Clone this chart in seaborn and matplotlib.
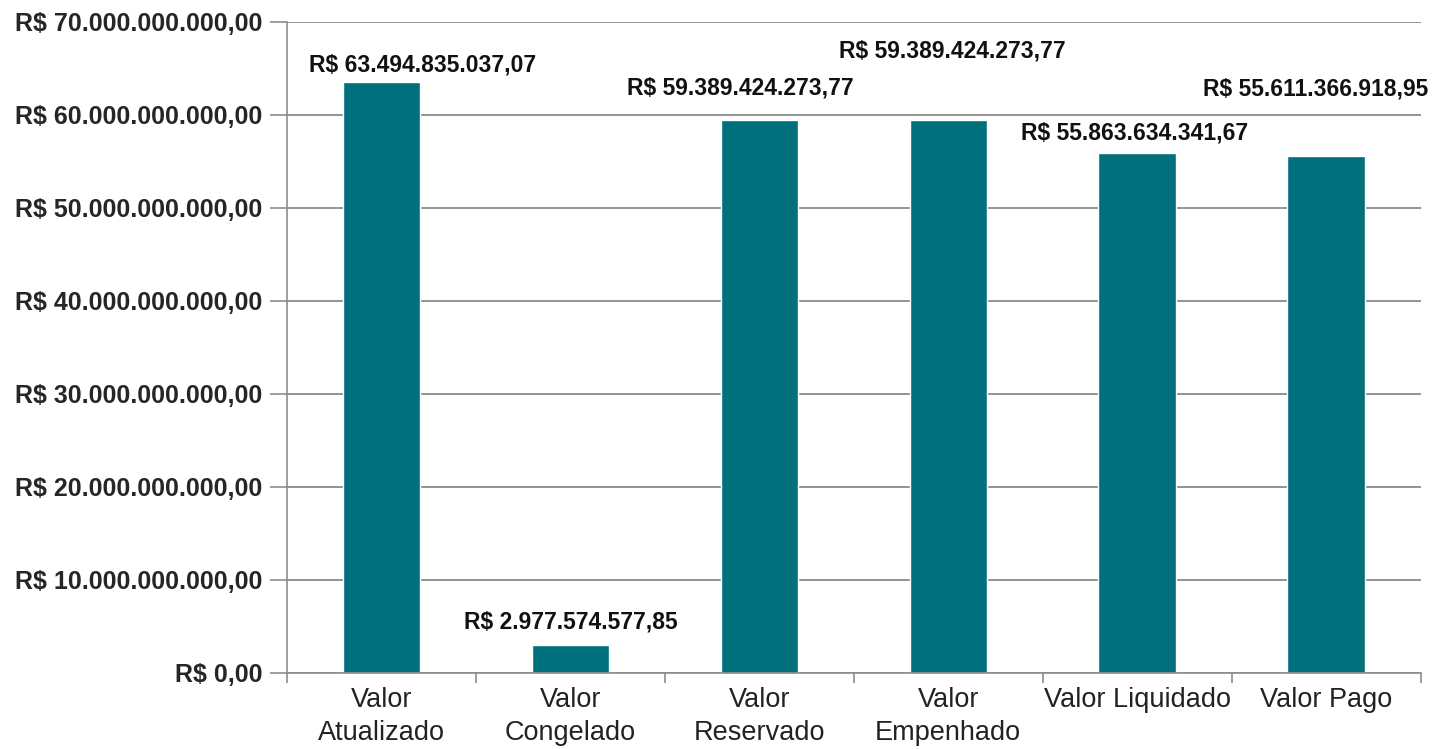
import matplotlib
matplotlib.use("Agg")
import matplotlib.pyplot as plt
from matplotlib.ticker import FuncFormatter, MultipleLocator, FixedLocator
import seaborn as sns
import pandas as pd

categorias = ["Valor\nAtualizado", "Valor\nCongelado", "Valor\nReservado",
              "Valor\nEmpenhado", "Valor Liquidado", "Valor Pago"]
valores = [63494835037.07, 2977574577.85, 59389424273.77,
           59389424273.77, 55863634341.67, 55611366918.95]

# label offsets in pixels (dx, dy), the original staggers them a bit
offsets = [(41, 17), (0, 23), (-19, 32), (4, 69), (-3, 20), (-10, 67)]


def brl(v, pos=None):
    s = f"{v:,.2f}"
    s = s.replace(",", "X").replace(".", ",").replace("X", ".")
    return "R$ " + s


sns.set_style("white")
plt.rcParams['font.family'] = ['Liberation Sans', 'DejaVu Sans']

df = pd.DataFrame({"categoria": categorias, "valor": valores})

fig = plt.figure(figsize=(14.32, 7.49), dpi=100)
ax = fig.add_axes([0.2005, 0.1015, 0.7915, 0.8695])

sns.barplot(data=df, x="categoria", y="valor", color="#00717C",
            width=0.41, saturation=1, ax=ax)

ax.set_ylim(0, 70e9)
ax.set_xlim(-0.5, 5.5)
ax.yaxis.set_major_locator(MultipleLocator(10e9))
ax.yaxis.set_major_formatter(FuncFormatter(brl))
ax.grid(axis="y", color="#808080", linewidth=1.2)
ax.set_axisbelow(True)

for side in ["top", "right"]:
    ax.spines[side].set_visible(False)
for side in ["left", "bottom"]:
    ax.spines[side].set_color("#8c8c8c")
    ax.spines[side].set_linewidth(1.2)

ax.tick_params(axis="y", which="major", left=True, length=12, width=1.2,
               color="#8c8c8c", labelsize=18, pad=6)
for t in ax.get_yticklabels():
    t.set_fontweight("bold")

ax.tick_params(axis="x", which="major", length=0, labelsize=19.5, pad=10,
               labelcolor="#222222")
ax.xaxis.set_minor_locator(FixedLocator([i - 0.5 for i in range(7)]))
ax.tick_params(axis="x", which="minor", bottom=True, length=7, width=1.2,
               color="#8c8c8c")
for t in ax.get_xticklabels():
    t.set_verticalalignment("top")
    t.set_linespacing(1.35)

ax.set_xlabel("")
ax.set_ylabel("")

for i, v in enumerate(valores):
    dx, dy = offsets[i]
    ax.annotate(brl(v), xy=(i, v), xytext=(dx * 0.72, dy * 0.72),
                textcoords="offset points", ha="center", va="center",
                fontsize=16.5, fontweight="bold", color="#111111")

fig.savefig("out.png", dpi=100)
